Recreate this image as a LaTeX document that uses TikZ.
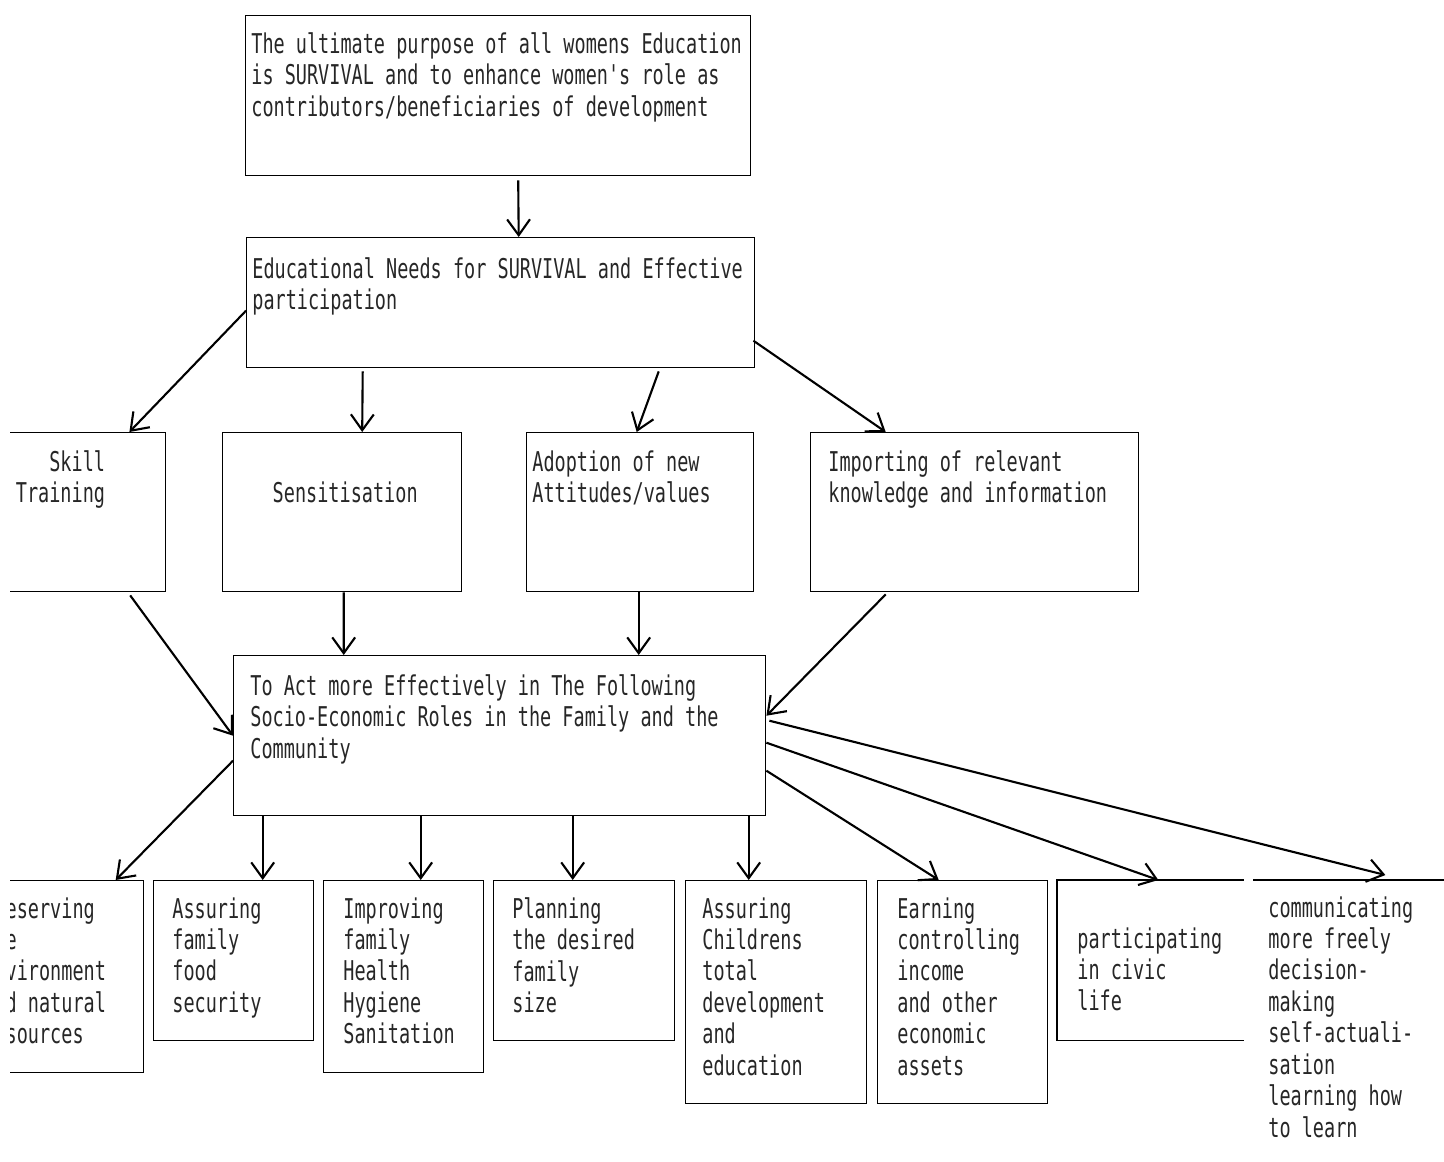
\documentclass[tikz,border=0pt]{standalone}
\usepackage{fontspec}
\usepackage{tikz}
\usetikzlibrary{arrows.meta,calc}
\newfontfamily\plotter[FakeStretch=0.68]{DejaVu Sans Mono}

\begin{document}
\begin{tikzpicture}[
        x=0.02cm, y=-0.02cm,
        box/.style={draw, line width=0.8pt, anchor=north west, inner sep=0pt},
        frame/.style={anchor=north west, inner sep=0pt},
        sized/.style 2 args={minimum width=#1*0.02cm, minimum height=#2*0.02cm},
        txt/.style={anchor=north west, align=left, inner sep=0pt, text=black!85,
            font=\plotter\fontsize{15.5pt}{17.9pt}\selectfont},
        arr/.style={draw, line width=1.2pt, -{Straight Barb[length=9pt,width=13pt]}}
    ]
        \useasboundingbox (0,0) rectangle (1444,1162);
        \clip (10,0) rectangle (1444,1162);

        % Define boxes
        \node[box, sized={505}{160}] (top) at (245,15) {};
        \node[box, sized={508}{130}] (needs) at (246,237) {};
        \node[box, sized={185}{159}] (skill) at (-20,432) {};
        \node[box, sized={239}{159}] (sens) at (222,432) {};
        \node[box, sized={227}{159}] (adopt) at (526,432) {};
        \node[box, sized={328}{159}] (import) at (810,432) {};
        \node[box, sized={532}{160}] (roles) at (233,655) {};
        \node[box, sized={183}{192}] (pres) at (-40,880) {};
        \node[box, sized={160}{160}] (food) at (153,880) {};
        \node[box, sized={160}{192}] (health) at (323,880) {};
        \node[box, sized={181}{160}] (plan) at (493,880) {};
        \node[box, sized={181}{223}] (child) at (685,880) {};
        \node[box, sized={170}{223}] (earn) at (877,880) {};
        \node[frame, sized={186}{160}] (civic) at (1057,880) {};
        \node[frame, sized={191}{260}] (comm) at (1253,880) {};
        \draw[line width=0.8pt] (civic.north east) -- (civic.north west) -- (civic.south west) -- (civic.south east);
        \draw[line width=0.8pt] (comm.north west) -- (comm.north east);

        % Box texts
        \node[txt] (topT) at ($(top.north west)+(6,17)$) {The ultimate purpose of all womens Education\\is SURVIVAL and to enhance women's role as\\contributors/beneficiaries of development};
        \node[txt] (needsT) at ($(needs.north west)+(6,20)$) {Educational Needs for SURVIVAL and Effective\\participation};
        \node[txt, anchor=north east, align=right] (skillT) at ($(skill.north east)+(-61,18)$) {Skill\\Training};
        \node[txt, anchor=center] (sensT) at ($(sens.north)+(3,60)$) {Sensitisation};
        \node[txt] (adoptT) at ($(adopt.north west)+(6,18)$) {Adoption of new\\Attitudes/values};
        \node[txt] (importT) at ($(import.north west)+(18,18)$) {Importing of relevant\\knowledge and information};
        \node[txt] (rolesT) at ($(roles.north west)+(17,19)$) {To Act more Effectively in The Following\\Socio-Economic Roles in the Family and the\\Community};
        \node[txt] (presT) at ($(pres.north west)+(23,17)$) {Preserving\\the\\environment\\and natural\\resources};
        \node[txt] (foodT) at ($(food.north west)+(19,17)$) {Assuring\\family\\food\\security};
        \node[txt] (healthT) at ($(health.north west)+(20,17)$) {Improving\\family\\Health\\Hygiene\\Sanitation};
        \node[txt] (planT) at ($(plan.north west)+(19,17)$) {Planning\\the desired\\family\\size};
        \node[txt] (childT) at ($(child.north west)+(17,17)$) {Assuring\\Childrens\\total\\development\\and\\education};
        \node[txt] (earnT) at ($(earn.north west)+(20,17)$) {Earning\\controlling\\income\\and other\\economic\\assets};
        \node[txt] (civicT) at ($(civic.north west)+(20,47)$) {participating\\in civic\\life};
        \node[txt] (commT) at ($(comm.north west)+(15,16)$) {communicating\\more freely\\decision-\\making\\self-actuali-\\sation\\learning how\\to learn};

        % Connectors
        % purpose -> needs
        \draw[arr] ($(top.south)+(20,4)$) -- ($(needs.north)+(18,0)$);
        % needs -> four kinds of education
        \draw[arr] ($(needs.west)+(0,8)$) -- ($(skill.north east)+(-37,0)$);
        \draw[arr] ($(needs.south)+(-138,3)$) -- ($(sens.north)+(20,0)$);
        \draw[arr] ($(needs.south)+(158,3)$) -- ($(adopt.north)+(-3.5,0)$);
        \draw[arr] ($(needs.east)+(-2,38)$) -- ($(import.north)+(-89,0)$);
        % four kinds of education -> roles
        \draw[arr] ($(skill.south)+(57,3)$) -- (roles.west);
        \draw[arr] ($(sens.south)+(1.5,0)$) -- ($(roles.north)+(-156,0)$);
        \draw[arr] ($(adopt.south)+(-1.5,0)$) -- ($(roles.north)+(139,0)$);
        \draw[arr] ($(import.south)+(-89,2)$) -- ($(roles.east)+(0,-20)$);
        % roles -> socio-economic roles
        \draw[arr] ($(roles.west)+(0,25)$) -- ($(pres.north)+(63.5,0)$);
        \draw[arr] ($(roles.south)+(-237,0)$) -- ($(food.north)+(29,0)$);
        \draw[arr] ($(roles.south)+(-79,0)$) -- ($(health.north)+(17,0)$);
        \draw[arr] ($(roles.south)+(73,0)$) -- ($(plan.north)+(-11.5,0)$);
        \draw[arr] ($(roles.south)+(249,0)$) -- ($(child.north)+(-27.5,0)$);
        \draw[arr] ($(roles.east)+(0,35)$) -- ($(earn.north)+(-24,0)$);
        \draw[arr] ($(roles.east)+(0,7)$) -- ($(civic.north)+(8,0)$);
        \draw[arr] ($(roles.east)+(3,-15)$) -- ($(comm.north)+(36.5,-5)$);
\end{tikzpicture}
\end{document}
